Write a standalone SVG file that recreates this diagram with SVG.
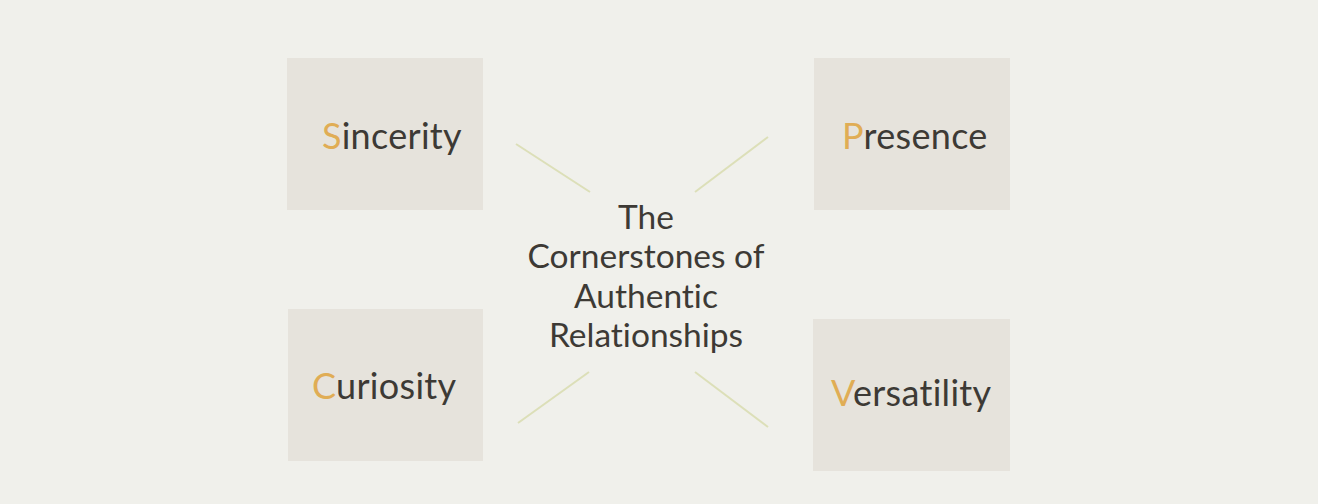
<svg xmlns="http://www.w3.org/2000/svg" width="1318" height="504" viewBox="0 0 1318 504">
<style>
.box{fill:#e6e3dc}
.lbl{font-family:Lato,"Open Sans",sans-serif;font-size:36px;fill:#3d3a35;font-variant-ligatures:none;letter-spacing:0.3px}
.acc{fill:#e0ad55}
.title{font-family:Lato,"Open Sans",sans-serif;font-size:33.5px;fill:#3d3a35;text-anchor:middle;font-variant-ligatures:none}
.con{stroke:#dcdfb8;stroke-width:2;fill:none}
</style>
<rect width="1318" height="504" fill="#f0f0eb"/>
<g id="connectors">
<line class="con" x1="516" y1="144" x2="590" y2="192"/>
<line class="con" x1="695" y1="192" x2="768" y2="137"/>
<line class="con" x1="589" y1="372" x2="518" y2="423"/>
<line class="con" x1="695" y1="372" x2="768" y2="427"/>
</g>
<g id="sincerity">
<rect class="box" x="287" y="58" width="196" height="152"/>
<text class="lbl" x="322" y="149"><tspan class="acc">S</tspan>incerity</text>
</g>
<g id="presence">
<rect class="box" x="814" y="58" width="196" height="152"/>
<text class="lbl" x="842" y="149"><tspan class="acc">P</tspan>resence</text>
</g>
<g id="curiosity">
<rect class="box" x="288" y="309" width="195" height="152"/>
<text class="lbl" x="312" y="399"><tspan class="acc">C</tspan>uriosity</text>
</g>
<g id="versatility">
<rect class="box" x="813" y="319" width="197" height="152"/>
<text class="lbl" x="831" y="406"><tspan class="acc">V</tspan>ersatility</text>
</g>
<g id="center">
<text class="title" x="646" y="229">The</text>
<text class="title" x="646" y="268">Cornerstones of</text>
<text class="title" x="646" y="308">Authentic</text>
<text class="title" x="646" y="347">Relationships</text>
</g>
</svg>
